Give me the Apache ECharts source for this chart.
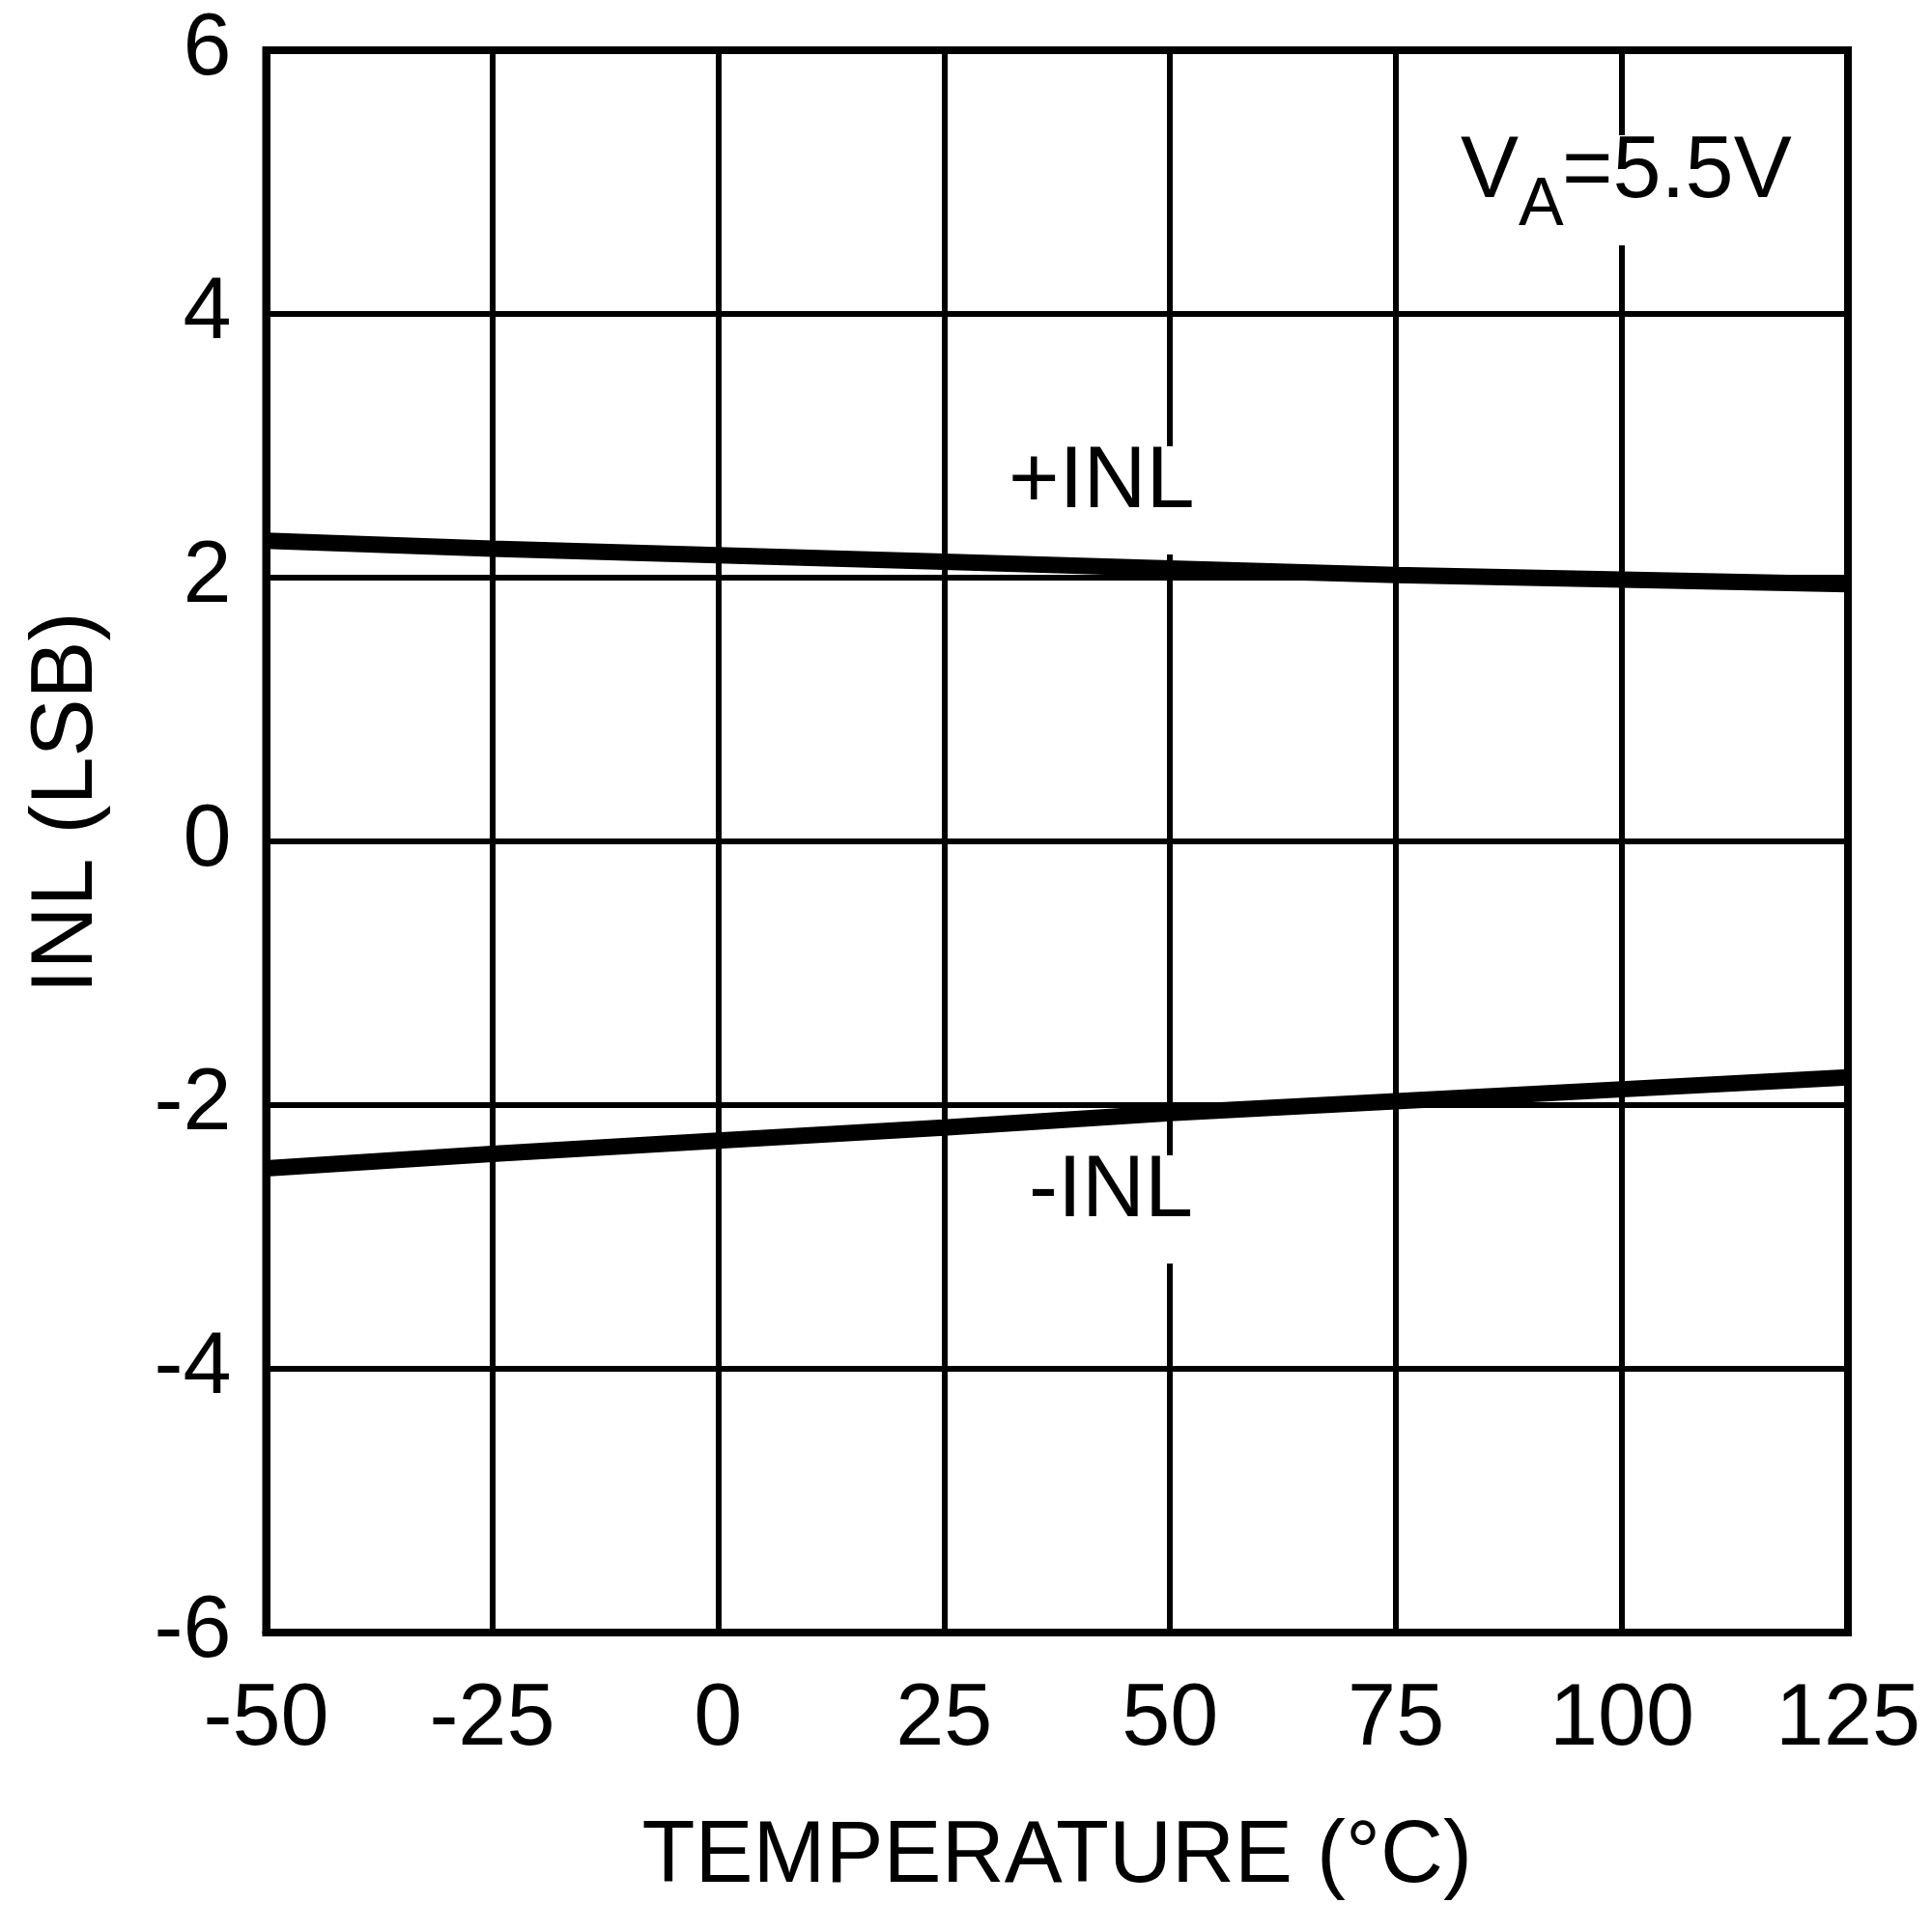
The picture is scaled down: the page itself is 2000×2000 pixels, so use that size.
<!DOCTYPE html>
<html>
<head>
<meta charset="utf-8">
<script src="https://cdn.jsdelivr.net/npm/echarts@6/dist/echarts.min.js"></script>
<style>html,body{margin:0;padding:0;background:#fff}#c{width:2000px;height:2000px}</style>
</head>
<body>
<div id="c"></div>
<script>
var temps = [-50, -25, 0, 25, 50, 75, 100, 125];
var inlPos = [2.28, 2.22, 2.17, 2.12, 2.07, 2.02, 1.985, 1.95];
var inlNeg = [-2.48, -2.37, -2.27, -2.17, -2.06, -1.97, -1.88, -1.79];
var xTicks = [-50, -25, 0, 25, 50, 75, 100, 125];
var yTicks = [-6, -4, -2, 0, 2, 4, 6];

var FONT = 'Liberation Sans, Arial, sans-serif';
function pairs(xs, ys) { return xs.map(function (x, i) { return [x, ys[i]]; }); }

var chart = echarts.init(document.getElementById('c'), null, { renderer: 'canvas' });
chart.setOption({
  backgroundColor: '#fff',
  animation: false,
  grid: { left: 275.5, right: 87, top: 52, bottom: 310, show: true, borderColor: '#000', borderWidth: 8, backgroundColor: 'transparent' },
  xAxis: {
    type: 'value', min: -50, max: 125, interval: 25,
    name: 'TEMPERATURE (°C)', nameLocation: 'middle', nameGap: 188,
    nameTextStyle: { fontFamily: FONT, fontSize: 90, color: '#000' },
    axisLine: { show: true, onZero: false, lineStyle: { color: '#000', width: 8 } },
    axisTick: { show: false },
    axisLabel: { margin: 46, fontFamily: FONT, fontSize: 90, color: '#000',
      formatter: function (v) { return xTicks.indexOf(v) >= 0 ? String(v) : ''; } },
    splitLine: { show: true, lineStyle: { color: '#000', width: 6 } }
  },
  yAxis: {
    type: 'value', min: -6, max: 6, interval: 2,
    name: 'INL (LSB)', nameLocation: 'middle', nameGap: 160, nameRotate: 90,
    nameTextStyle: { fontFamily: FONT, fontSize: 90, color: '#000', padding: [0, 0, 0, 80] },
    axisLine: { show: true, onZero: false, lineStyle: { color: '#000', width: 8 } },
    axisTick: { show: false },
    axisLabel: { margin: 36, fontFamily: FONT, fontSize: 90, color: '#000',
      formatter: function (v) { return yTicks.indexOf(v) >= 0 ? String(v) : ''; } },
    splitLine: { show: true, lineStyle: { color: '#000', width: 6 } }
  },
  series: [
    { type: 'line', name: '+INL', data: pairs(temps, inlPos), showSymbol: false, symbol: 'none', z: 2,
      lineStyle: { color: '#000', width: 17 } },
    { type: 'line', name: '-INL', data: pairs(temps, inlNeg), showSymbol: false, symbol: 'none', z: 2,
      lineStyle: { color: '#000', width: 17 } }
  ],
  graphic: [
    { type: 'rect', z: 1, shape: { x: 1500, y: 140, width: 370, height: 114 }, style: { fill: '#fff' } },
    { type: 'rect', z: 1, shape: { x: 1040, y: 462, width: 205, height: 112 }, style: { fill: '#fff' } },
    { type: 'rect', z: 1, shape: { x: 1058, y: 1196, width: 185, height: 112 }, style: { fill: '#fff' } },
    { type: 'text', z: 5, x: 1512, y: 179.5, style: { text: 'V', font: '90px ' + FONT, fill: '#000', textAlign: 'left', textVerticalAlign: 'middle' } },
    { type: 'text', z: 5, x: 1572, y: 214, style: { text: 'A', font: '70px ' + FONT, fill: '#000', textAlign: 'left', textVerticalAlign: 'middle' } },
    { type: 'text', z: 5, x: 1617, y: 179.5, style: { text: '=5.5V', font: '90px ' + FONT, fill: '#000', textAlign: 'left', textVerticalAlign: 'middle' } },
    { type: 'text', z: 5, x: 1044, y: 500, style: { text: '+INL', font: '90px ' + FONT, fill: '#000', textAlign: 'left', textVerticalAlign: 'middle' } },
    { type: 'text', z: 5, x: 1065, y: 1234, style: { text: '-INL', font: '90px ' + FONT, fill: '#000', textAlign: 'left', textVerticalAlign: 'middle' } }
  ]
});
</script>
</body>
</html>
